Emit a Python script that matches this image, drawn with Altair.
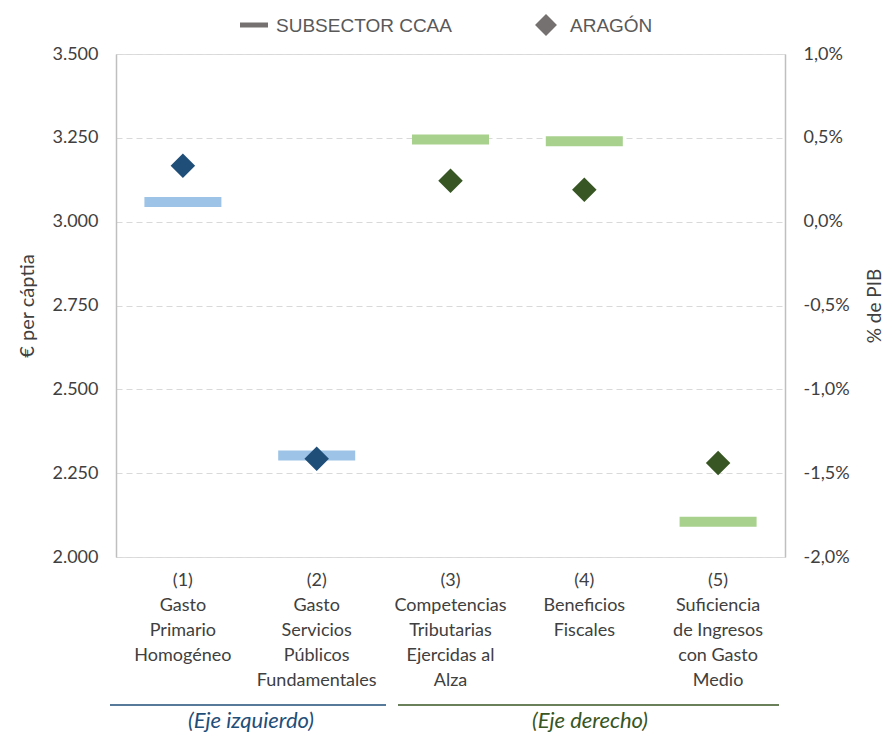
import altair as alt
import pandas as pd

# ---------------- data ----------------
categories = [
    "(1)\nGasto\nPrimario\nHomogéneo",
    "(2)\nGasto\nServicios\nPúblicos\nFundamentales",
    "(3)\nCompetencias\nTributarias\nEjercidas al\nAlza",
    "(4)\nBeneficios\nFiscales",
    "(5)\nSuficiencia\nde Ingresos\ncon Gasto\nMedio",
]
left_cats = categories[:2]
left_ccaa = [3059, 2303]          # € per cápita
left_aragon = [3167, 2293]
right_cats = categories[2:]
right_ccaa = [0.0049, 0.0048, -0.0179]   # % de PIB
right_aragon = [0.00244, 0.0019, -0.0144]

legend_labels = ["SUBSECTOR CCAA", "ARAGÓN"]
axis_notes = ["(Eje izquierdo)", "(Eje derecho)"]

BLUE_BAR = "#9DC3E6"
BLUE_DOT = "#1F4E79"
GREEN_BAR = "#A9D18E"
GREEN_DOT = "#375623"
GREY = "#767171"
FONT = "Lato"
TXT = "#404040"

df_left = pd.DataFrame({"cat": left_cats, "ccaa": left_ccaa, "aragon": left_aragon})
df_right = pd.DataFrame({"cat": right_cats, "ccaa": right_ccaa, "aragon": right_aragon})

x_enc = alt.X(
    "cat:N",
    sort=categories,
    scale=alt.Scale(domain=categories, paddingInner=0, paddingOuter=0),
    axis=alt.Axis(
        title=None, labelAngle=0, domain=False, ticks=False,
        labelExpr="split(datum.label, '\\n')",
        labelFont=FONT, labelFontSize=18, labelColor=TXT,
        labelLineHeight=25, labelPadding=14, labelBaseline="top",
        labelOverlap=False, labelLimit=300,
    ),
)

left_scale = alt.Scale(domain=[2000, 3500], nice=False, zero=False)
left_axis = alt.Axis(
    title="€ per cáptia", orient="left",
    values=[2000, 2250, 2500, 2750, 3000, 3250, 3500],
    labelExpr="replace(format(datum.value, ','), ',', '.')",
    labelFont=FONT, labelFontSize=18, labelColor=TXT, labelPadding=18,
    titleFont=FONT, titleFontSize=20, titleColor=TXT, titleFontWeight="normal",
    titlePadding=14,
    ticks=False, domainColor="#BFBFBF", domainWidth=1.5,
    grid=True, gridColor="#D9D9D9", gridDash=[6, 4], gridWidth=1.2,
)
right_scale = alt.Scale(domain=[-0.02, 0.01], nice=False, zero=False)
right_axis = alt.Axis(
    title="% de PIB", orient="right",
    values=[-0.02, -0.015, -0.01, -0.005, 0, 0.005, 0.01],
    labelExpr="replace(replace(format(datum.value, '.1%'), '.', ','), '\u2212', '-')",
    labelFont=FONT, labelFontSize=18, labelColor=TXT, labelPadding=18,
    titleFont=FONT, titleFontSize=19, titleColor=TXT, titleFontWeight="normal",
    titleAngle=270, titlePadding=35,
    ticks=False, domainColor="#BFBFBF", domainWidth=1.5, grid=False,
)

bar_l = alt.Chart(df_left).mark_tick(color=BLUE_BAR, size=77, thickness=10, opacity=1).encode(
    x=x_enc, y=alt.Y("ccaa:Q", scale=left_scale, axis=left_axis))
dia_l = alt.Chart(df_left).mark_point(shape="diamond", filled=True, size=600, color=BLUE_DOT, opacity=1).encode(
    x=x_enc, y=alt.Y("aragon:Q", scale=left_scale, axis=left_axis))
left = alt.layer(bar_l, dia_l)

bar_r = alt.Chart(df_right).mark_tick(color=GREEN_BAR, size=77, thickness=10, opacity=1).encode(
    x=x_enc, y=alt.Y("ccaa:Q", scale=right_scale, axis=right_axis))
dia_r = alt.Chart(df_right).mark_point(shape="diamond", filled=True, size=600, color=GREEN_DOT, opacity=1).encode(
    x=x_enc, y=alt.Y("aragon:Q", scale=right_scale, axis=right_axis))
right = alt.layer(bar_r, dia_r)

# ---------------- legend (manual) ----------------
leg_df = pd.DataFrame({"label": legend_labels})
leg_bar = alt.Chart(leg_df.iloc[[0]]).mark_rule(color=GREY, strokeWidth=5).encode(
    x=alt.value(124), x2=alt.value(152), y=alt.value(-29))
leg_dia = alt.Chart(leg_df.iloc[[1]]).mark_point(shape="diamond", filled=True, size=480, color=GREY, opacity=1).encode(
    x=alt.value(430), y=alt.value(-29))
leg_t1 = alt.Chart(leg_df.iloc[[0]]).mark_text(align="left", baseline="middle", font="Liberation Sans",
                                               fontSize=19, color="#595959").encode(
    x=alt.value(160), y=alt.value(-28), text="label:N")
leg_t2 = alt.Chart(leg_df.iloc[[1]]).mark_text(align="left", baseline="middle", font="Liberation Sans",
                                               fontSize=19, color="#595959").encode(
    x=alt.value(454), y=alt.value(-28), text="label:N")

# ---------------- bottom axis notes ----------------
note_df = pd.DataFrame({"label": axis_notes})
line_l = alt.Chart(note_df.iloc[[0]]).mark_rule(color=BLUE_DOT, strokeWidth=1.4).encode(
    x=alt.value(-6), x2=alt.value(270), y=alt.value(651))
line_r = alt.Chart(note_df.iloc[[1]]).mark_rule(color=GREEN_DOT, strokeWidth=1.4).encode(
    x=alt.value(282), x2=alt.value(663), y=alt.value(651))
note_l = alt.Chart(note_df.iloc[[0]]).mark_text(align="center", baseline="middle", font=FONT,
                                                fontSize=22, fontStyle="italic", color=BLUE_DOT).encode(
    x=alt.value(135), y=alt.value(667), text="label:N")
note_r = alt.Chart(note_df.iloc[[1]]).mark_text(align="center", baseline="middle", font=FONT,
                                                fontSize=22, fontStyle="italic", color=GREEN_DOT).encode(
    x=alt.value(474), y=alt.value(667), text="label:N")

deco = alt.layer(leg_bar, leg_dia, leg_t1, leg_t2, line_l, line_r, note_l, note_r)

chart = alt.layer(left, right, deco).resolve_scale(y="independent").properties(
    width=669, height=503,
    autosize=alt.AutoSizeParams(type="none"),
    padding={"left": 108, "top": 46, "right": 100, "bottom": 175},
).configure_view(stroke=None).configure(background="white")

chart.save("out.html", embed_options={"renderer": "svg", "actions": False})
